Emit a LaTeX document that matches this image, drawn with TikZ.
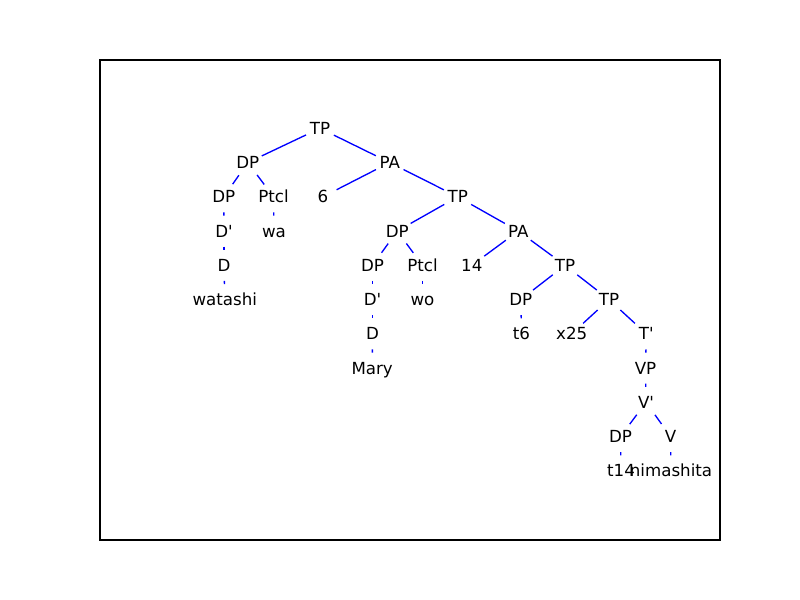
\documentclass[tikz,border=0pt]{standalone}
\usepackage{fontspec}
\newfontfamily\dvs{DejaVu Sans}
\begin{document}
\begin{tikzpicture}[x=0.75pt,y=-0.75pt,
  lbl/.style={inner sep=0pt,text height=9.5pt,text depth=0.5pt,anchor=center,font=\dvs\fontsize{12.5pt}{14pt}\selectfont},
  edge/.style={draw=blue,line width=1pt,shorten <=11.6pt,shorten >=11.6pt}]
\useasboundingbox (0,0) rectangle (800,600);
\draw[line width=1pt] (100,60) rectangle (720,540);
% rows: y = 128.3 + 34.25 k
\node[lbl] (tp0) at (320,128.3) {TP};
\node[lbl] (dp1) at (247.8,162.55) {DP};
\node[lbl] (pa1) at (389.7,162.55) {PA};
\node[lbl] (dp2) at (223.8,196.8) {DP};
\node[lbl] (ptcl2) at (273.5,196.8) {Ptcl};
\node[lbl] (six) at (322.8,196.8) {6};
\node[lbl] (tp2) at (457.7,196.8) {TP};
\node[lbl] (dbar3) at (224,231.05) {D'};
\node[lbl] (wa) at (274,231.05) {wa};
\node[lbl] (dp3) at (397.2,231.05) {DP};
\node[lbl] (pa3) at (518.3,231.05) {PA};
\node[lbl] (d4) at (224,265.3) {D};
\node[lbl] (dp4) at (372.5,265.3) {DP};
\node[lbl] (ptcl4) at (422.5,265.3) {Ptcl};
\node[lbl] (fourteen) at (471.8,265.3) {14};
\node[lbl] (tp4) at (565,265.3) {TP};
\node[lbl] (watashi) at (224.8,299.55) {watashi};
\node[lbl] (dbar5) at (372.5,299.55) {D'};
\node[lbl] (wo) at (422.5,299.55) {wo};
\node[lbl] (dp5) at (520.8,299.55) {DP};
\node[lbl] (tp5) at (609,299.55) {TP};
\node[lbl] (d6) at (372.5,333.8) {D};
\node[lbl] (t6) at (521.5,333.8) {t6};
\node[lbl] (x25) at (571.7,333.8) {x25};
\node[lbl] (tbar) at (646.3,333.8) {T'};
\node[lbl] (mary) at (372.2,368.05) {Mary};
\node[lbl] (vp) at (645.5,368.05) {VP};
\node[lbl] (vbar) at (646,402.3) {V'};
\node[lbl] (dp9) at (620.5,436.55) {DP};
\node[lbl] (v9) at (670.5,436.55) {V};
\node[lbl] (t14) at (621,470.8) {t14};
\node[lbl] (nimashita) at (671,470.8) {nimashita};
% edges
\draw[edge] (tp0.center) -- (dp1.center);
\draw[edge] (tp0.center) -- (pa1.center);
\draw[edge] (dp1.center) -- (dp2.center);
\draw[edge] (dp1.center) -- (ptcl2.center);
\draw[edge] (pa1.center) -- (six.center);
\draw[edge] (pa1.center) -- (tp2.center);
\draw[edge] (dp2.center) -- (dbar3.center);
\draw[edge] (ptcl2.center) -- (wa.center);
\draw[edge] (tp2.center) -- (dp3.center);
\draw[edge] (tp2.center) -- (pa3.center);
\draw[edge] (dbar3.center) -- (d4.center);
\draw[edge] (dp3.center) -- (dp4.center);
\draw[edge] (dp3.center) -- (ptcl4.center);
\draw[edge] (pa3.center) -- (fourteen.center);
\draw[edge] (pa3.center) -- (tp4.center);
\draw[edge] (d4.center) -- (watashi.center);
\draw[edge] (dp4.center) -- (dbar5.center);
\draw[edge] (ptcl4.center) -- (wo.center);
\draw[edge] (tp4.center) -- (dp5.center);
\draw[edge] (tp4.center) -- (tp5.center);
\draw[edge] (dbar5.center) -- (d6.center);
\draw[edge] (dp5.center) -- (t6.center);
\draw[edge] (tp5.center) -- (x25.center);
\draw[edge] (tp5.center) -- (tbar.center);
\draw[edge] (d6.center) -- (mary.center);
\draw[edge] (tbar.center) -- (vp.center);
\draw[edge] (vp.center) -- (vbar.center);
\draw[edge] (vbar.center) -- (dp9.center);
\draw[edge] (vbar.center) -- (v9.center);
\draw[edge] (dp9.center) -- (t14.center);
\draw[edge] (v9.center) -- (nimashita.center);
\end{tikzpicture}
\end{document}
